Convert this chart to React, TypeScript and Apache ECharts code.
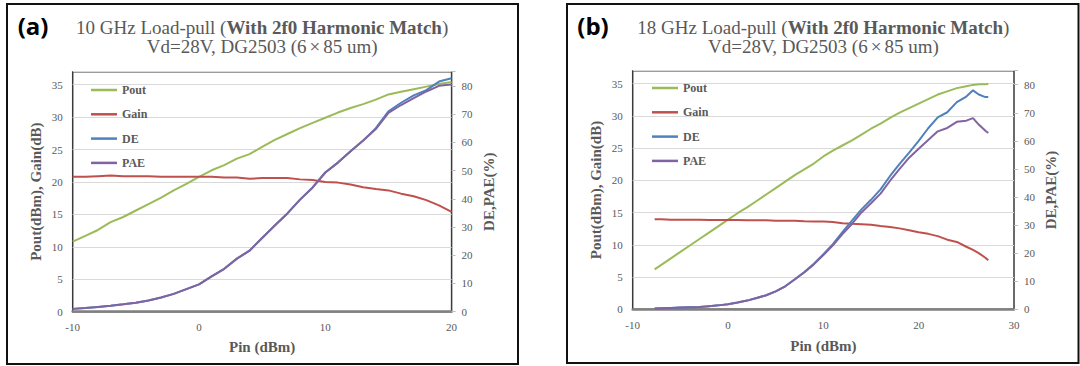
import React, { useEffect, useRef } from 'react';
import * as echarts from 'echarts';

// ---------- Data: panel (a) 10 GHz ----------
const pinA = [-10, -9, -8, -7, -6, -5, -4, -3, -2, -1, 0, 1, 2, 3, 4, 5, 6, 7, 8, 9, 10, 11, 12, 13, 14, 15, 16, 17, 18, 19, 20];
const poutA = [10.8, 11.7, 12.6, 13.8, 14.6, 15.6, 16.6, 17.6, 18.7, 19.7, 20.8, 21.8, 22.6, 23.6, 24.3, 25.4, 26.5, 27.4, 28.3, 29.1, 29.9, 30.7, 31.4, 32.0, 32.7, 33.5, 33.9, 34.3, 34.7, 35.1, 35.4];
const gainA = [20.8, 20.8, 20.9, 21.0, 20.9, 20.9, 20.9, 20.8, 20.8, 20.8, 20.8, 20.8, 20.7, 20.7, 20.5, 20.6, 20.6, 20.6, 20.4, 20.3, 20.0, 19.9, 19.6, 19.2, 18.9, 18.7, 18.2, 17.8, 17.2, 16.4, 15.4];
const deA = [1.0, 1.3, 1.7, 2.1, 2.6, 3.2, 4.0, 5.0, 6.3, 8.0, 9.7, 12.5, 15.2, 18.8, 21.6, 26.1, 30.5, 34.8, 39.7, 44.0, 49.3, 52.8, 56.8, 60.6, 65.0, 71.0, 74.0, 76.6, 78.5, 81.5, 82.7];
const paeA = [1.0, 1.3, 1.7, 2.1, 2.6, 3.2, 4.0, 5.0, 6.3, 8.0, 9.7, 12.5, 15.2, 18.8, 21.6, 26.1, 30.5, 34.8, 39.7, 44.0, 49.3, 52.8, 56.8, 60.6, 64.7, 70.4, 73.2, 75.6, 78.0, 80.0, 80.5];

// ---------- Data: panel (b) 18 GHz ----------
const pinB = [-7.7, -7, -6, -5, -4, -3, -2, -1, 0, 1, 2, 3, 4, 5, 6, 7, 8, 9, 10, 11, 12, 13, 14, 15, 16, 17, 18, 19, 20, 21, 22, 23, 24, 25, 25.7, 26.3, 27, 27.3];
const poutB = [6.2, 6.9, 7.9, 8.9, 9.9, 10.9, 11.9, 12.9, 13.9, 14.9, 15.8, 16.8, 17.8, 18.8, 19.8, 20.8, 21.7, 22.6, 23.7, 24.6, 25.4, 26.2, 27.1, 28.0, 28.8, 29.7, 30.5, 31.2, 31.9, 32.6, 33.3, 33.8, 34.3, 34.6, 34.8, 34.9, 34.9, 34.95];
const gainB = [13.95, 13.95, 13.9, 13.9, 13.9, 13.9, 13.85, 13.85, 13.85, 13.85, 13.8, 13.8, 13.8, 13.75, 13.75, 13.75, 13.65, 13.6, 13.6, 13.55, 13.35, 13.25, 13.2, 13.1, 12.9, 12.75, 12.55, 12.25, 11.95, 11.7, 11.35, 10.8, 10.45, 9.7, 9.2, 8.7, 8.0, 7.6];
const deB = [0.3, 0.4, 0.5, 0.6, 0.7, 0.8, 1.1, 1.4, 1.8, 2.4, 3.1, 4.0, 5.0, 6.4, 8.2, 10.7, 13.3, 16.2, 19.6, 23.2, 27.5, 31.6, 35.6, 39.0, 42.7, 47.5, 51.8, 55.8, 60.0, 64.5, 68.4, 70.2, 73.8, 75.8, 78.0, 76.5, 75.6, 75.6];
const paeB = [0.3, 0.4, 0.5, 0.6, 0.7, 0.8, 1.1, 1.4, 1.8, 2.4, 3.1, 4.0, 5.0, 6.4, 8.2, 10.6, 13.1, 16.0, 19.3, 22.8, 26.8, 30.4, 34.5, 37.8, 41.2, 45.8, 50.0, 54.0, 57.2, 60.3, 63.4, 64.6, 66.8, 67.2, 68.1, 65.8, 63.6, 62.8];

// ---------- Labels ----------
const seriesNames = ['Pout', 'Gain', 'DE', 'PAE'];
const panelTags = ['(a)', '(b)'];
const titleFreq = ['10 GHz', '18 GHz'];
const titleBold = 'With 2f0 Harmonic Match';
const subtitle = ['Vd=28V, DG2503 (6', '×', '85 um)'];
const xName = 'Pin (dBm)';
const yLeftName = 'Pout(dBm), Gain(dB)';
const yRightName = 'DE,PAE(%)';

const COLORS = ['#9BBB59', '#C0504D', '#4F81BD', '#8064A2'];

function pairs(x: number[], y: number[]) {
  return x.map((v, i) => [v, y[i]]);
}

export default function App() {
  const ref = useRef<HTMLDivElement>(null);

  useEffect(() => {
    const chart = echarts.init(ref.current!, null, { renderer: 'svg' });
    const serif = 'Liberation Serif';
    const gray = '#595959';

    const grids = [
      { left: 72.7, top: 71.7, width: 378.9, height: 240 },
      { left: 632.7, top: 70.7, width: 381.3, height: 238.6 },
    ];
    const panels = [
      { pin: pinA, ys: [poutA, gainA, deA, paeA], xMax: 20, frame: { x: 7, y: 4, w: 511, h: 360 }, legend: { left: 91, top: 83 }, nameGapY: 29, nameGapR: 30, nameGapX: 28 },
      { pin: pinB, ys: [poutB, gainB, deB, paeB], xMax: 30, frame: { x: 567, y: 4, w: 511.5, h: 359 }, legend: { left: 652, top: 81 }, nameGapY: 29, nameGapR: 29, nameGapX: 29 },
    ];

    const axisLabel = { fontFamily: serif, fontSize: 11, color: gray };
    const nameStyle = { fontFamily: serif, fontSize: 15, fontWeight: 'bold' as const, color: gray };

    const xAxis: any[] = [];
    const yAxis: any[] = [];
    const series: any[] = [];
    const legend: any[] = [];
    const graphic: any[] = [];

    panels.forEach((p, gi) => {
      xAxis.push({
        gridIndex: gi,
        type: 'value',
        min: -10,
        max: p.xMax,
        interval: 10,
        name: xName,
        nameLocation: 'middle',
        nameGap: p.nameGapX,
        nameTextStyle: nameStyle,
        axisLine: { show: true, lineStyle: { color: '#808080', width: 2.5 } },
        axisTick: { show: false },
        splitLine: { show: false },
        axisLabel: { ...axisLabel, margin: 10 },
      });
      yAxis.push({
        gridIndex: gi,
        type: 'value',
        position: 'left',
        min: 0,
        max: 37,
        interval: 5,
        name: yLeftName,
        nameLocation: 'middle',
        nameRotate: 90,
        nameGap: p.nameGapY,
        nameTextStyle: nameStyle,
        axisLine: { show: false },
        axisTick: { show: false },
        splitLine: { show: true, lineStyle: { color: '#D9D9D9', width: 1 } },
        axisLabel: { ...axisLabel, margin: 10, formatter: (v: number) => (v % 5 === 0 ? String(v) : '') },
      });
      yAxis.push({
        gridIndex: gi,
        type: 'value',
        position: 'right',
        min: 0,
        max: 85,
        interval: 10,
        name: yRightName,
        nameLocation: 'middle',
        nameRotate: 90,
        nameGap: p.nameGapR,
        nameTextStyle: nameStyle,
        axisLine: { show: false },
        axisTick: { show: true, length: 4, lineStyle: { color: '#BFBFBF' } },
        splitLine: { show: false },
        axisLabel: { ...axisLabel, margin: 10, formatter: (v: number) => (v % 10 === 0 ? String(v) : '') },
      });

      seriesNames.forEach((name, si) => {
        series.push({
          name,
          type: 'line',
          xAxisIndex: gi,
          yAxisIndex: gi * 2 + (si < 2 ? 0 : 1),
          data: pairs(p.pin, p.ys[si]),
          symbol: 'none',
          smooth: false,
          lineStyle: { color: COLORS[si], width: 2 },
          itemStyle: { color: COLORS[si] },
          z: 2 + si,
        });
      });

      legend.push({
        orient: 'vertical',
        left: p.legend.left,
        top: p.legend.top,
        padding: 0,
        icon: 'rect',
        itemWidth: 26,
        itemHeight: 2.5,
        itemGap: 10.3,
        selectedMode: false,
        data: seriesNames,
        textStyle: { fontFamily: serif, fontSize: 12, fontWeight: 'bold', color: gray, lineHeight: 14 },
      });

      const g = grids[gi];
      const cx = g.left + g.width / 2;
      graphic.push({
        type: 'rect',
        shape: { x: p.frame.x, y: p.frame.y, width: p.frame.w, height: p.frame.h },
        style: { fill: 'none', stroke: '#111', lineWidth: 2 },
        silent: true,
      });
      graphic.push({
        type: 'text',
        x: p.frame.x + 26,
        y: 25,
        style: {
          text: panelTags[gi],
          fontFamily: 'Open Sans',
          fontWeight: 'bold',
          fontSize: 24,
          fill: '#000',
          align: 'center',
          verticalAlign: 'middle',
        },
      });
      graphic.push({
        type: 'text',
        x: cx,
        y: 27,
        style: {
          text: '{n|' + titleFreq[gi] + ' Load-pull (}{b|' + titleBold + '}{n|)}',
          fill: gray,
          fontFamily: serif,
          fontSize: 19,
          lineHeight: 18,
          align: 'center',
          verticalAlign: 'middle',
          rich: {
            n: { fontFamily: serif, fontSize: 19, lineHeight: 18, fontWeight: 'normal', fill: gray },
            b: { fontFamily: serif, fontSize: 19, lineHeight: 18, fontWeight: 'bold', fill: gray },
          },
        },
      });
      graphic.push({
        type: 'text',
        x: cx,
        y: 46.5,
        style: {
          text: '{n|' + subtitle[0] + '}{x|' + subtitle[1] + '}{n|' + subtitle[2] + '}',
          fill: gray,
          fontFamily: serif,
          fontSize: 19,
          lineHeight: 18,
          align: 'center',
          verticalAlign: 'middle',
          rich: {
            n: { fontFamily: serif, fontSize: 19, lineHeight: 18, fontWeight: 'normal', fill: gray },
            x: { fontFamily: serif, fontSize: 19, lineHeight: 18, fontWeight: 'normal', fill: gray, padding: [0, 3] },
          },
        },
      });
    });

    chart.setOption({
      animation: false,
      backgroundColor: '#ffffff',
      grid: grids.map((g) => ({ ...g, show: true, borderColor: '#3a3a3a', borderWidth: 1.5, backgroundColor: 'transparent' })),
      xAxis,
      yAxis,
      legend,
      series,
      graphic,
    });

    return () => chart.dispose();
  }, []);

  return (
    <div
      ref={ref}
      style={{ position: 'fixed', left: 0, top: 0, width: 1080, height: 366, background: '#fff' }}
    />
  );
}
